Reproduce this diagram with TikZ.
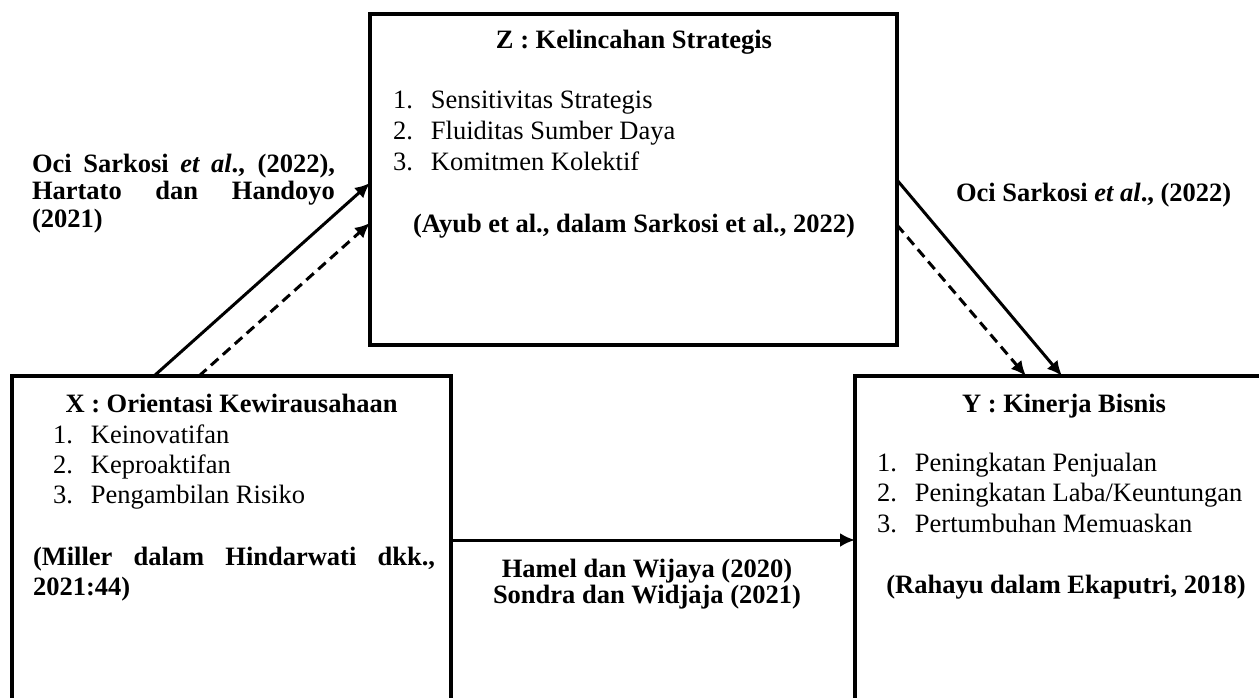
\documentclass[tikz,border=0pt]{standalone}
\usepackage{fontspec}
\setmainfont{Liberation Serif}
\usetikzlibrary{arrows.meta}
\newcommand{\numitem}[2]{\makebox[38pt][l]{#1}#2}
\begin{document}
\begin{tikzpicture}[x=1pt,y=-1pt,
  varbox/.style={draw=black, line width=3.4pt, rectangle, inner sep=0pt, outer sep=0pt, anchor=north west},
  txt/.style={inner sep=0pt, outer sep=0pt, font=\fontsize{26.5}{30}\selectfont},
  btxt/.style={txt, font=\fontsize{26.5}{30}\selectfont\bfseries},
  arr/.style={line width=3pt, -{Latex[length=15pt,width=14pt]}},
  darr/.style={arr, dash pattern=on 10pt off 6pt}]
\useasboundingbox (0,0) rectangle (1259,698);
\clip (0,0) rectangle (1259,698);
% boxes
\node[varbox, minimum width=527pt, minimum height=331pt] (Z) at (370,14) {};
\node[varbox, minimum width=439pt, minimum height=420pt] (X) at (12,376) {};
\node[varbox, minimum width=430pt, minimum height=420pt] (Y) at (855,376) {};
% Z contents
\node[btxt, anchor=base] (zt) at (634,49) {Z : Kelincahan Strategis};
\node[txt, anchor=base west] (z1) at (393,109) {\numitem{1.}{Sensitivitas Strategis}};
\node[txt, anchor=base west] (z2) at (393,140) {\numitem{2.}{Fluiditas Sumber Daya}};
\node[txt, anchor=base west] (z3) at (393,171) {\numitem{3.}{Komitmen Kolektif}};
\node[btxt, anchor=base] (zc) at (634,233) {(Ayub et al., dalam Sarkosi et al., 2022)};
% X contents
\node[btxt, anchor=base] (xt) at (231.5,412) {X : Orientasi Kewirausahaan};
\node[txt, anchor=base west] (x1) at (53,443) {\numitem{1.}{Keinovatifan}};
\node[txt, anchor=base west] (x2) at (53,473) {\numitem{2.}{Keproaktifan}};
\node[txt, anchor=base west] (x3) at (53,503) {\numitem{3.}{Pengambilan Risiko}};
\node[btxt, anchor=base west] (xc1) at (33,565) {\makebox[402pt][s]{(Miller dalam Hindarwati dkk.,}};
\node[btxt, anchor=base west] (xc2) at (33,595) {2021:44)};
% Y contents
\node[btxt, anchor=base] (yt) at (1064,412) {Y : Kinerja Bisnis};
\node[txt, anchor=base west] (y1) at (877,471) {\numitem{1.}{Peningkatan Penjualan}};
\node[txt, anchor=base west] (y2) at (877,501) {\numitem{2.}{Peningkatan Laba/Keuntungan}};
\node[txt, anchor=base west] (y3) at (877,532) {\numitem{3.}{Pertumbuhan Memuaskan}};
\node[btxt, anchor=base] (yc) at (1066,593) {(Rahayu dalam Ekaputri, 2018)};
% connector labels
\node[btxt, anchor=base west] (l1) at (32,173) {\makebox[303pt][s]{Oci Sarkosi \textit{et al}., (2022),}};
\node[btxt, anchor=base west] (l2) at (32,199.5) {\makebox[303pt][s]{Hartato dan Handoyo}};
\node[btxt, anchor=base west] (l3) at (32,227) {(2021)};
\node[btxt, anchor=base west] (r1) at (956,201) {Oci Sarkosi \textit{et al}., (2022)};
\node[btxt, anchor=base] (m1) at (647,577) {Hamel dan Wijaya (2020)};
\node[btxt, anchor=base] (m2) at (647,603) {Sondra dan Widjaja (2021)};
% connectors
\draw[arr]  ([xshift=142pt]X.north west) -- ([yshift=-169pt]Z.north west);
\draw[darr] ([xshift=187pt]X.north west) -- ([yshift=-209pt]Z.north west);
\draw[arr]  ([yshift=-166pt]Z.north east) -- ([xshift=207pt]Y.north west);
\draw[darr] ([yshift=-211pt]Z.north east) -- ([xshift=171pt]Y.north west);
\draw[arr]  ([yshift=-164pt]X.north east) -- ([yshift=-164pt]Y.north west);
\end{tikzpicture}
\end{document}
